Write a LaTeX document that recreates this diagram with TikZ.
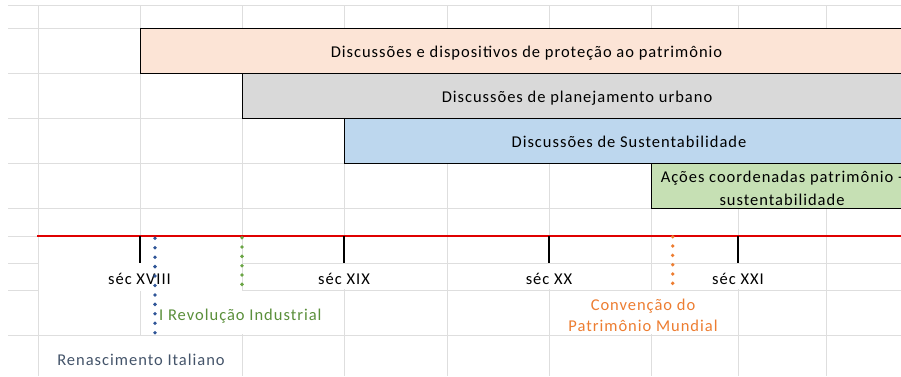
\documentclass[tikz,border=0pt]{standalone}
\usepackage{fontspec}
\setmainfont{Carlito}[LetterSpace=6]
\definecolor{gridc}{HTML}{DEDEDE}
\definecolor{peach}{HTML}{FCE4D6}
\definecolor{greyb}{HTML}{D9D9D9}
\definecolor{blueb}{HTML}{BDD7EE}
\definecolor{greenb}{HTML}{C6E0B4}
\definecolor{dotblue}{HTML}{2F5597}
\definecolor{dotgreen}{HTML}{6AA544}
\definecolor{txtgreen}{HTML}{5A8F3A}
\definecolor{orangec}{HTML}{ED7D31}
\definecolor{slate}{HTML}{44546A}
\definecolor{redl}{HTML}{E00000}
\tikzset{
  gridline/.style={draw=gridc, line width=1pt},
  mask/.style={fill=white},
  bar/.style={draw=black, line width=1.3pt, inner sep=0pt, anchor=north west, minimum height=45pt},
  txt/.style={inner sep=0pt, anchor=base, font=\fontsize{16.5}{19}\selectfont},
  tickmark/.style={draw=black, line width=2.2pt},
  timeline/.style={draw=redl, line width=2pt},
  dotline/.style={line width=3.8pt, line cap=round, dash pattern=on 0pt off #1},
}
\begin{document}
\begin{tikzpicture}[x=1pt,y=-1pt]
\useasboundingbox (0,0) rectangle (901,376);
\clip (0,0) rectangle (901,376);
% grid
\foreach \yy in {5,28,73,118,163,208,236,263,290,335}
  \draw[gridline] (8,\yy) -- (901,\yy);
\foreach \xx in {38,140,242,344,447,549,651,738,826}
  \draw[gridline] (\xx,5) -- (\xx,376);
% white label backgrounds hiding grid
\fill[mask] (38.5,262) rectangle (241.5,291);
\fill[mask] (318,264) rectangle (371,289);
\fill[mask] (526,264) rectangle (573,289);
\fill[mask] (713,264) rectangle (764,289);
\fill[mask] (157,291) rectangle (338,334);
\fill[mask] (556,291) rectangle (725,334);
\fill[mask] (50,336) rectangle (232,376);
% bars
\node[bar, fill=peach, minimum width=773pt] (b1) at (140,28) {};
\node[bar, fill=greyb, minimum width=671pt] (b2) at (242,73) {};
\node[bar, fill=blueb, minimum width=570pt] (b3) at (344,118) {};
\node[bar, fill=greenb, minimum width=262pt] (b4) at (651,163) {};
\node[txt] (b1t) at (526.5,57.3) {Discussões e dispositivos de proteção ao patrimônio};
\node[txt] (b2t) at (577,102.3) {Discussões de planejamento urbano};
\node[txt] (b3t) at (629,147.7) {Discussões de Sustentabilidade};
\node[txt] (b4t1) at (782,182.7) {Ações coordenadas patrimônio -};
\node[txt] (b4t2) at (782,205) {sustentabilidade};
% timeline
\coordinate (tla) at (37,236);
\coordinate (tlb) at (901,236);
\draw[timeline] (tla) -- (tlb);
\foreach \xx/\nm in {140/t18,344/t19,549/t20,738/t21}{
  \coordinate (\nm a) at (\xx,236);
  \coordinate (\nm b) at (\xx,263);
  \draw[tickmark] (\nm a) -- (\nm b);
}
% labels
\node[txt] (l18) at (139.5,284.3) {séc XVIII};
\node[txt] (l19) at (344,284.3) {séc XIX};
\node[txt] (l20) at (549,284.3) {séc XX};
\node[txt] (l21) at (738,284.3) {séc XXI};
\node[txt, text=txtgreen, anchor=base west] (lrev) at (159,320.3) {I Revolução Industrial};
\node[txt, text=orangec] (lconv1) at (643,310.7) {Convenção do};
\node[txt, text=orangec] (lconv2) at (643,331.7) {Patrimônio Mundial};
\node[txt, text=slate] (lren) at (141,365) {Renascimento Italiano};
% dotted markers
\coordinate (dba) at (155,238.3);
\coordinate (dbb) at (155,333.5);
\draw[dotline=9.44pt, draw=dotblue] (dba) -- (dbb);
\coordinate (dga) at (242,237.7);
\coordinate (dgb) at (242,285);
\draw[dotline=9.33pt, draw=dotgreen] (dga) -- (dgb);
\coordinate (doa) at (672.7,236.7);
\coordinate (dob) at (672.7,284);
\draw[dotline=9.33pt, draw=orangec] (doa) -- (dob);
\end{tikzpicture}
\end{document}
